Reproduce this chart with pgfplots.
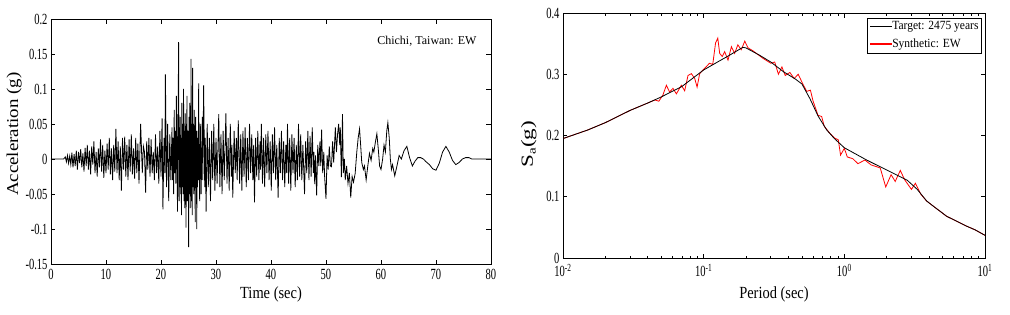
\documentclass[border=0pt]{standalone}
\usepackage{fontspec}
\setmainfont{Liberation Serif}
\newfontfamily\tickf{Liberation Serif}[FakeStretch=0.68]
\usepackage{graphicx}
\usepackage{pgfplots}
\pgfplotsset{compat=1.18}
\usepackage{pgfplotstable}

\pgfplotstableread{
t a
0 0
2.3 0
2.6 0.003
2.8 -0.004
3.0 0.005
3.2 -0.006
3.4 0.004
3.6 -0.008
3.8 0.009
4.0 -0.012
4.2 0.007
4.4 -0.010
4.6 0.012
4.8 -0.015
5.0 0.010
5.2 -0.006
5.4 0.014
5.6 -0.012
5.8 0.008
6.0 -0.018
6.2 0.016
6.4 -0.010
6.6 0.020
6.8 -0.015
7.0 0.012
7.2 -0.022
7.4 0.018
7.6 -0.008
7.8 0.025
8.0 -0.020
8.2 0.010
8.4 -0.025
8.6 0.015
8.8 -0.012
9.0 0.028
9.2 -0.018
9.4 0.020
9.6 -0.027
9.8 0.012
10.0 -0.020
10.2 0.022
10.4 -0.015
10.6 0.030
10.8 -0.022
11.0 0.015
11.2 -0.030
11.4 0.020
11.6 -0.018
11.8 0.043
12.0 -0.020
12.2 0.025
12.4 -0.030
12.6 0.018
12.8 -0.045
13.0 0.030
13.2 -0.015
13.4 0.032
13.6 -0.025
13.8 0.020
14.0 -0.030
14.2 0.028
14.4 -0.018
14.6 0.035
14.8 -0.022
15.0 0.015
15.2 -0.028
15.4 0.030
15.6 -0.020
15.8 0.022
16.0 -0.035
16.3 0.050
16.6 -0.020
16.8 0.018
17.0 0.010
17.2 -0.048
17.4 0.025
17.6 -0.015
17.8 0.030
18.0 -0.025
18.2 0.028
18.4 -0.020
18.6 0.010
18.8 -0.030
19.0 0.035
19.2 -0.020
19.4 0.018
19.6 -0.035
19.8 0.040
20.0 -0.025
20.2 0.058
20.35 -0.072
20.55 0.030
20.7 -0.020
20.8 0.121
21.0 -0.040
21.2 0.050
21.4 -0.060
21.6 0.035
21.8 -0.030
22.0 0.045
22.1 -0.030
22.2 0.030
22.3 -0.050
22.4 0.070
22.5 -0.020
22.6 0.040
22.7 -0.035
22.8 0.090
22.9 0.020
23.0 -0.075
23.1 0.040
23.2 0.167
23.3 -0.060
23.4 0.045
23.45 -0.040
23.5 0.060
23.58 -0.050
23.65 0.030
23.72 -0.080
23.8 0.080
23.87 -0.040
23.95 0.050
24.02 -0.050
24.1 0.100
24.17 -0.060
24.25 0.040
24.32 -0.070
24.4 0.065
24.47 0.020
24.55 -0.098
24.62 0.050
24.66 -0.020
24.72 0.090
24.8 -0.060
24.86 0.040
24.92 -0.030
24.96 0.040
25.02 -0.126
25.1 0.060
25.17 -0.050
25.24 0.080
25.31 -0.070
25.38 0.050
25.4 -0.030
25.46 0.143
25.53 -0.060
25.6 0.050
25.67 -0.080
25.75 0.130
25.82 -0.040
25.9 0.050
25.97 -0.050
26.05 0.070
26.12 -0.040
26.16 0.020
26.22 -0.090
26.3 0.060
26.37 -0.040
26.43 0.040
26.5 -0.100
26.58 0.030
26.65 -0.040
26.72 0.040
26.78 -0.030
26.85 0.108
26.93 -0.030
26.97 0.020
27.03 -0.060
27.15 0.050
27.3 -0.050
27.5 0.060
27.6 -0.030
27.75 0.105
27.95 -0.040
28.05 0.030
28.2 -0.075
28.4 0.050
28.6 -0.040
28.8 0.030
29.0 -0.060
29.2 0.040
29.4 -0.030
29.6 0.050
29.8 -0.045
30.0 0.030
30.2 -0.035
30.5 0.064
30.7 -0.040
30.9 0.035
31.1 -0.050
31.3 0.040
31.5 -0.030
31.8 0.065
32.0 -0.035
32.2 0.030
32.4 -0.045
32.6 0.050
32.8 -0.025
32.9 0.020
33.05 -0.055
33.3 0.040
33.5 -0.020
33.7 0.030
33.85 -0.030
34.05 0.055
34.3 -0.035
34.5 0.035
34.7 -0.045
34.9 0.040
35.1 -0.025
35.3 0.045
35.5 -0.040
35.7 0.030
35.9 -0.030
36.1 0.050
36.3 -0.020
36.5 0.035
36.7 -0.030
36.85 0.020
37.0 -0.062
37.2 0.030
37.4 -0.025
37.6 0.040
37.8 -0.030
38.0 0.025
38.1 -0.015
38.25 0.050
38.45 -0.035
38.65 0.030
38.85 -0.040
39.05 0.035
39.25 -0.020
39.45 0.040
39.65 -0.030
39.85 0.025
40.05 -0.045
40.25 0.035
40.45 -0.020
40.65 0.045
40.85 -0.030
41.05 0.020
41.3 -0.055
41.5 0.030
41.7 -0.020
41.9 0.040
42.1 -0.030
42.3 0.025
42.5 -0.040
42.7 0.020
42.85 -0.020
43.0 0.050
43.2 -0.035
43.4 0.030
43.6 -0.045
43.8 0.035
44.0 -0.020
44.2 0.030
44.4 -0.040
44.6 0.020
44.8 -0.030
45.0 0.050
45.2 -0.025
45.4 0.035
45.6 -0.030
45.8 0.020
46.1 -0.050
46.3 0.025
46.5 -0.020
46.7 0.040
46.9 -0.030
47.1 0.033
47.3 -0.025
47.5 0.045
47.7 -0.020
47.8 0.010
47.95 -0.036
48.1 0.005
48.3 -0.052
48.5 0.020
48.7 -0.010
48.9 0.025
49.05 -0.010
49.2 0.042
49.4 -0.020
49.6 0.010
49.75 -0.025
50.0 -0.057
50.2 0.005
50.4 -0.015
50.6 0.018
50.8 -0.010
51.0 -0.011
51.2 0.025
51.4 -0.005
51.7 0.045
51.9 0.010
52.1 0.035
52.3 0.050
52.5 0.020
52.6 0.045
52.8 -0.026
53.0 0.064
53.15 -0.020
53.35 0.000
53.5 -0.030
53.75 -0.010
54.0 -0.035
54.25 -0.020
54.5 -0.055
54.75 -0.025
55.0 -0.033
55.3 -0.021
55.6 0.010
55.85 0.030
56.1 0.043
56.3 0.020
56.5 -0.005
56.8 -0.015
57.0 -0.010
57.3 -0.030
57.6 -0.010
57.9 0.008
58.2 -0.002
58.5 0.015
58.7 0.010
59.0 0.025
59.25 0.036
59.5 0.015
59.75 -0.010
60.0 -0.015
60.3 0.000
60.55 0.020
60.8 0.010
61.05 0.040
61.25 0.052
61.5 0.030
61.7 0.000
61.9 -0.015
62.1 -0.008
62.5 -0.024
62.9 -0.010
63.3 0.005
63.7 0.000
64.2 0.012
64.7 0.018
65.2 0.002
65.7 -0.010
66.2 -0.003
66.7 0.002
67.2 0.002
67.7 0.000
68.2 -0.004
68.8 -0.008
69.4 -0.014
70.0 -0.016
70.6 -0.006
71.2 0.010
71.8 0.018
72.4 0.010
73.0 -0.002
73.6 -0.008
74.2 -0.005
74.8 0.000
75.4 0.002
76.0 0.002
76.5 0.000
80 0
}\accel

\pgfplotstableread{
T Sa
0.01 0.195
0.015 0.209
0.02 0.221
0.03 0.241
0.04 0.253
0.05 0.263
0.07 0.280
0.1 0.307
0.13 0.322
0.15 0.330
0.19 0.344
0.2 0.343
0.25 0.331
0.3 0.320
0.37 0.304
0.45 0.292
0.5 0.284
0.57 0.260
0.65 0.232
0.75 0.209
0.85 0.195
1.0 0.180
1.44 0.160
2.0 0.1437
2.8 0.127
3.3 0.112
3.85 0.093
4.5 0.081
5.35 0.068
6.3 0.060
7.4 0.052
8.5 0.046
10 0.037
}\target

\pgfplotstableread{
T Sa
0.01 0.195
0.015 0.209
0.02 0.221
0.03 0.241
0.04 0.253
0.045 0.258
0.048 0.256
0.0513 0.266
0.0543 0.282
0.0573 0.271
0.0605 0.277
0.064 0.268
0.0694 0.282
0.0733 0.273
0.0774 0.298
0.0818 0.301
0.0864 0.293
0.0898 0.279
0.0937 0.301
0.0989 0.307
0.104 0.312
0.110 0.318
0.116 0.316
0.1215 0.351
0.126 0.359
0.130 0.334
0.1355 0.329
0.141 0.337
0.149 0.323
0.1575 0.345
0.166 0.334
0.175 0.348
0.185 0.340
0.196 0.354
0.207 0.343
0.225 0.338
0.264 0.326
0.30 0.318
0.32 0.320
0.34 0.300
0.36 0.312
0.38 0.298
0.41 0.303
0.44 0.293
0.47 0.300
0.50 0.287
0.54 0.272
0.574 0.274
0.60 0.256
0.65 0.233
0.69 0.231
0.72 0.215
0.78 0.205
0.85 0.196
0.906 0.193
0.94 0.168
1.0 0.179
1.05 0.165
1.15 0.162
1.25 0.154
1.4 0.160
1.55 0.152
1.7 0.149
1.8 0.147
1.97 0.116
2.15 0.136
2.3 0.125
2.5 0.143
2.68 0.128
3.0 0.112
3.2 0.122
3.5 0.104
3.85 0.093
4.5 0.081
5.35 0.068
6.3 0.060
7.4 0.052
8.5 0.046
10 0.037
}\synth

\begin{document}
\begin{tikzpicture}
\useasboundingbox (0,0) rectangle (1010pt,314pt);
\pgfplotsset{
  every axis/.append style={
    scale only axis,
    axis line style={black, line width=0.8pt},
    tick style={black, line width=0.6pt},
    major tick length=4.5pt,
    minor tick length=2.5pt,
    tick align=inside,
    tick label style={font=\tickf\fontsize{15.5}{16}\selectfont},
    label style={font=\rmfamily\fontsize{17}{18}\selectfont},
  }
}
\begin{axis}[
  at={(51pt,50pt)}, anchor=south west,
  width=440pt, height=245pt,
  xmin=0, xmax=80, ymin=-0.15, ymax=0.2,
  xtick={0,10,...,80},
  xticklabels={0,10,20,30,40,50,60,70,80},
  ytick={-0.15,-0.1,-0.05,0,0.05,0.1,0.15,0.2},
  yticklabels={-0.15,-0.1,-0.05,0,0.05,0.1,0.15,0.2},
  xticklabel style={yshift=-2pt},
  xlabel={\scalebox{0.85}[1]{Time (sec)}},
  ylabel={\scalebox{1.14}[1]{\fontsize{16.6}{17}\selectfont Acceleration (g)}},
  xlabel style={at={(axis description cs:0.5,-0.125)}, anchor=center},
  ylabel style={at={(axis description cs:-0.084,0.53)}, anchor=center},
]
\addplot[black, line width=0.8pt] table[x=t, y=a] {\accel};
\node[anchor=east, font=\rmfamily\fontsize{12}{13}\selectfont] at (rel axis cs:0.975,0.91) {Chichi, Taiwan: EW};
\end{axis}

\begin{axis}[
  at={(563pt,56pt)}, anchor=south west,
  width=422pt, height=245pt,
  xmode=log,
  xmin=0.01, xmax=10, ymin=0, ymax=0.4,
  xtick={0.01,0.1,1,10},
  xticklabels={10\textsuperscript{-2},10\textsuperscript{-1},10\textsuperscript{0},10\textsuperscript{1}},
  ytick={0,0.1,0.2,0.3,0.4},
  yticklabels={0,0.1,0.2,0.3,0.4},
  xticklabel style={yshift=-3pt},
  xlabel={\scalebox{0.85}[1]{Period (sec)}},
  ylabel={\scalebox{1.36}[1]{\fontsize{17}{18}\selectfont S\raisebox{-0.35ex}{\fontsize{11}{12}\selectfont a}(g)}},
  xlabel style={at={(axis description cs:0.5,-0.15)}, anchor=center},
  ylabel style={at={(axis description cs:-0.081,0.465)}, anchor=center},
]
\addplot[red, line width=0.8pt] table[x=T, y=Sa] {\synth};
\addplot[black, line width=0.8pt] table[x=T, y=Sa] {\target};
\node[draw=black, line width=1.1pt, fill=white, anchor=north east, inner sep=3pt,
      align=left, font=\rmfamily\fontsize{12.5}{13}\selectfont]
  at (rel axis cs:0.993,0.98)
  {\textcolor{black}{\rule[0.55ex]{22pt}{1pt}}\scalebox{0.92}[1]{Target: 2475 years}\\[5pt]
   \textcolor{red}{\rule[0.55ex]{22pt}{1.2pt}}\scalebox{0.92}[1]{Synthetic: EW}};
\end{axis}
\end{tikzpicture}
\end{document}
